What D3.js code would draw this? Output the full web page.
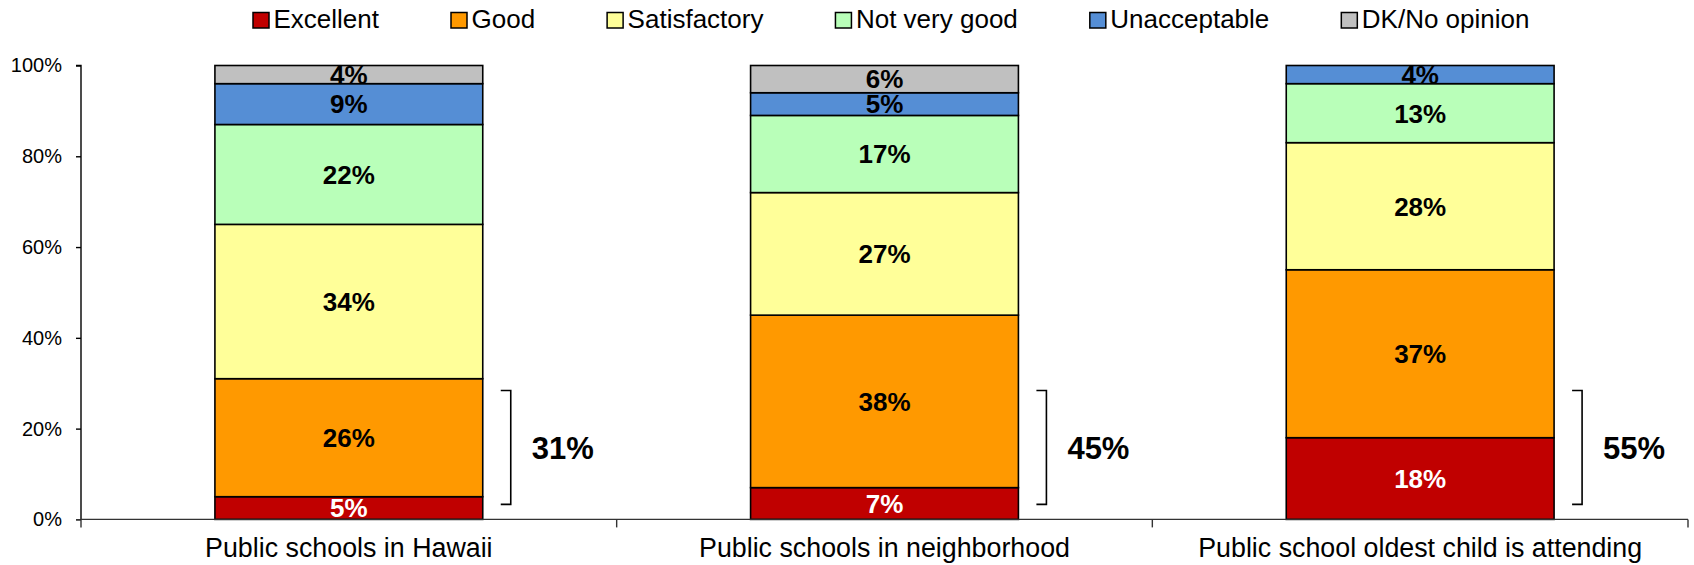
<!DOCTYPE html>
<html>
<head>
<meta charset="utf-8">
<script src="https://cdn.jsdelivr.net/npm/d3@7/dist/d3.min.js"></script>
<style>
  html, body { margin: 0; padding: 0; background: #fff; }
  svg { display: block; font-family: Arial, "Liberation Sans", sans-serif; }
</style>
</head>
<body>
<svg id="chart" width="1694" height="565"></svg>
<script>
// Ratings of public schools (percent of respondents)
const categories = [
  "Public schools in Hawaii",
  "Public schools in neighborhood",
  "Public school oldest child is attending"
];
const seriesNames = ["Excellent", "Good", "Satisfactory", "Not very good", "Unacceptable", "DK/No opinion"];
const excellent    = [5, 7, 18];
const good         = [26, 38, 37];
const satisfactory = [34, 27, 28];
const notVeryGood  = [22, 17, 13];
const unacceptable = [9, 5, 4];
const dkNoOpinion  = [4, 6, 0];
// Combined "Excellent + Good" shown beside each bar
const positiveTotals = [31, 45, 55];
const yTicks = [0, 20, 40, 60, 80, 100];

const colors = ["#C00000", "#FF9900", "#FFFF99", "#B9FFB9", "#558ED5", "#C0C0C0"];
const labelColors = ["#ffffff", "#000", "#000", "#000", "#000", "#000"];

const seriesValues = [excellent, good, satisfactory, notVeryGood, unacceptable, dkNoOpinion];
const rows = categories.map((c, i) => {
  const r = { category: c };
  seriesNames.forEach((s, k) => { r[s] = seriesValues[k][i]; });
  return r;
});

const svg = d3.select("#chart");
const margin = { left: 81, right: 6, top: 65.5, bottom: 45.6 };
const W = 1694, H = 565;

const x = d3.scaleBand()
  .domain(categories)
  .range([margin.left, W - margin.right])
  .paddingInner(0.5)
  .paddingOuter(0.25);

const y = d3.scaleLinear()
  .domain([0, 100])
  .range([H - margin.bottom, margin.top]);

const stacked = d3.stack().keys(seriesNames)(rows);

// Stacked segments
const layers = svg.append("g").selectAll("g")
  .data(stacked)
  .join("g")
  .attr("fill", (d, i) => colors[i]);

layers.selectAll("rect")
  .data(d => d.filter(p => p[1] - p[0] > 0))
  .join("rect")
  .attr("x", d => x(d.data.category))
  .attr("width", x.bandwidth())
  .attr("y", d => y(d[1]))
  .attr("height", d => y(d[0]) - y(d[1]))
  .attr("stroke", "#000")
  .attr("stroke-width", 1.6);

// Segment value labels
stacked.forEach((layer, i) => {
  svg.append("g").selectAll("text")
    .data(layer.filter(p => p[1] - p[0] > 0))
    .join("text")
    .attr("x", d => x(d.data.category) + x.bandwidth() / 2)
    .attr("y", d => y((d[0] + d[1]) / 2))
    .attr("dy", "0.36em")
    .attr("text-anchor", "middle")
    .attr("font-size", 26)
    .attr("font-weight", "bold")
    .attr("fill", labelColors[i])
    .text(d => (d[1] - d[0]) + "%");
});

// Y axis
const yAxis = svg.append("g")
  .attr("transform", `translate(${margin.left},0)`)
  .call(d3.axisLeft(y).tickValues(yTicks).tickSize(5).tickPadding(14).tickFormat(d => d + "%"));
yAxis.select(".domain").attr("stroke", "#000").attr("stroke-width", 1.4).attr("d", `M-5,${y(100)}H0V${y(0)}`);
yAxis.selectAll(".tick line").attr("stroke", "#000").attr("stroke-width", 1.4);
yAxis.selectAll(".tick text")
  .attr("font-size", 20)
  .attr("font-family", "Arial, 'Liberation Sans', sans-serif")
  .attr("fill", "#000");

// X axis with tick marks between categories
const x0 = margin.left, x1 = W - margin.right;
const step = x.step();
const xAxis = svg.append("g");
xAxis.append("line")
  .attr("x1", x0).attr("x2", x1)
  .attr("y1", y(0)).attr("y2", y(0))
  .attr("stroke", "#333").attr("stroke-width", 1.4);
const boundaries = d3.range(categories.length + 1).map(i => x0 + i * step);
xAxis.selectAll("line.tick")
  .data(boundaries)
  .join("line")
  .attr("class", "tick")
  .attr("x1", d => d).attr("x2", d => d)
  .attr("y1", y(0)).attr("y2", y(0) + 8)
  .attr("stroke", "#333").attr("stroke-width", 1.4);
xAxis.selectAll("text")
  .data(categories)
  .join("text")
  .attr("x", d => x(d) + x.bandwidth() / 2)
  .attr("y", 557)
  .attr("text-anchor", "middle")
  .attr("font-size", 26.8)
  .attr("fill", "#000")
  .text(d => d);

// Brackets with Excellent + Good totals
const bracketLow = 3.3, bracketHigh = 28.4;
const brackets = svg.append("g");
categories.forEach((c, i) => {
  const bx = x(c) + x.bandwidth() + 28;
  brackets.append("path")
    .attr("d", `M${bx - 10},${y(bracketHigh)}H${bx}V${y(bracketLow)}H${bx - 10}`)
    .attr("fill", "none")
    .attr("stroke", "#000")
    .attr("stroke-width", 1.6);
  brackets.append("text")
    .attr("x", bx + 52)
    .attr("y", y((bracketLow + bracketHigh) / 2))
    .attr("dy", "0.36em")
    .attr("text-anchor", "middle")
    .attr("font-size", 31)
    .attr("font-weight", "bold")
    .attr("fill", "#000")
    .text(positiveTotals[i] + "%");
});

// Legend
const legend = svg.append("g");
let lx = 253;
seriesNames.forEach((s, i) => {
  legend.append("rect")
    .attr("x", lx).attr("y", 12.5)
    .attr("width", 16).attr("height", 15.5)
    .attr("fill", colors[i])
    .attr("stroke", "#000")
    .attr("stroke-width", 1.5);
  const t = legend.append("text")
    .attr("x", lx + 20.5)
    .attr("y", 28.3)
    .attr("font-size", 26)
    .attr("fill", "#000")
    .text(s);
  lx += 20.5 + t.node().getComputedTextLength() + 72;
});
</script>
</body>
</html>
